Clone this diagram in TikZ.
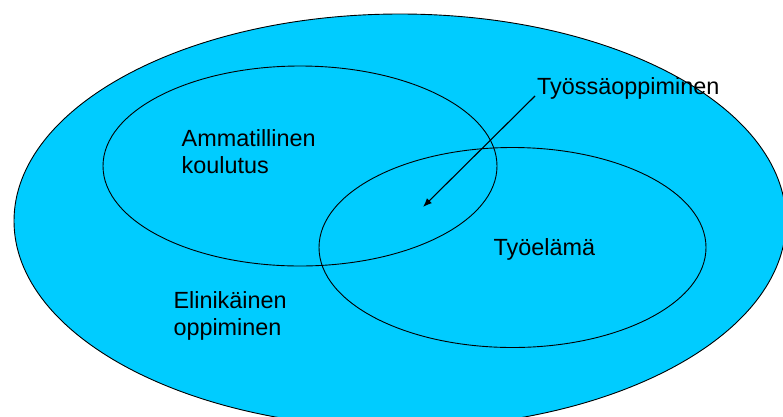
\documentclass[tikz,border=0pt]{standalone}
\usepackage{fontspec}
\setmainfont{Liberation Sans}
\usetikzlibrary{shapes.geometric,arrows.meta}
\definecolor{skyfill}{RGB}{0,204,255}
\begin{document}
\begin{tikzpicture}[x=1pt,y=-1pt,
  ring/.style={ellipse,draw=black,line width=0.9pt,inner sep=0pt,outer sep=0pt},
  lbl/.style={anchor=base west,inner sep=0pt,font=\fontsize{23.4}{27.2}\selectfont,align=left},
  pointer/.style={line width=1.1pt,-{Latex[length=9pt,width=7pt]}}]
\useasboundingbox (0,0) rectangle (783,416);
\clip (0,0) rectangle (783,416);
\node[ring,fill=skyfill,minimum width=772pt,minimum height=414pt] (life) at (400,221) {};
\node[ring,minimum width=394pt,minimum height=200pt] (school) at (300,166) {};
\node[ring,minimum width=387pt,minimum height=200pt] (work) at (512.5,247.5) {};
\node[lbl] (tschool) at (181.5,173.3) {Ammatillinen\\koulutus};
\node[lbl] (twork) at (493.5,255.5) {Työelämä};
\node[lbl] (tlife) at (173.3,335.5) {Elinikäinen\\oppiminen};
\node[lbl] (tjob) at (537,94) {Työssäoppiminen};
\coordinate (from) at (535,96);
\coordinate (to) at (423,207);
\draw[pointer] (from) -- (to);
\end{tikzpicture}
\end{document}
